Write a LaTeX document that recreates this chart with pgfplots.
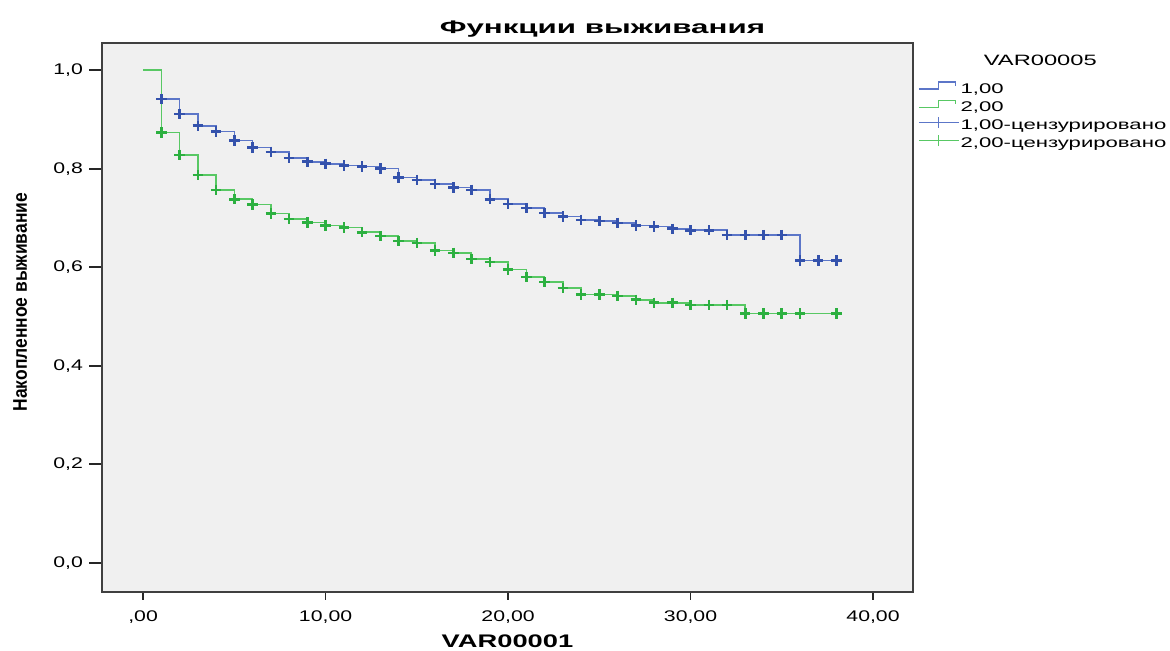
\documentclass[border=0pt]{standalone}
\usepackage{fontspec}
\setmainfont{Liberation Sans}
\newfontfamily\titlefont[FakeStretch=1.72]{Liberation Sans}
\newfontfamily\xlabfont[FakeStretch=1.5]{Liberation Sans}
\newfontfamily\ylabfont[FakeStretch=0.88]{Liberation Sans}
\newfontfamily\tickfont[FakeStretch=1.38]{Liberation Sans}
\newfontfamily\legfont[FakeStretch=1.58]{Liberation Sans}
\usepackage{pgfplots}
\usepackage{pgfplotstable}
\pgfplotsset{compat=1.18}
\definecolor{bline}{RGB}{92,118,200}
\definecolor{bmark}{RGB}{52,82,172}
\definecolor{gline}{RGB}{88,200,100}
\definecolor{gmark}{RGB}{44,176,64}
\definecolor{bg}{RGB}{240,240,240}
\pgfplotsset{
  stepleg/.style={legend image code/.code={\draw (0pt,-1.5pt)--(10pt,-1.5pt)--(10pt,2pt)--(18.5pt,2pt)--(18.5pt,0pt);}},
  censleg/.style={legend image code/.code={\draw (0pt,0pt)--(20pt,0pt); \draw (10pt,-2.8pt)--(10pt,2.8pt);}},
}
\pgfplotstableread{
x y
0 1.0
1 0.941
2 0.911
3 0.887
4 0.875
5 0.857
6 0.843
7 0.834
8 0.822
9 0.814
10 0.810
11 0.806
12 0.804
13 0.800
14 0.782
15 0.777
16 0.769
17 0.762
18 0.757
19 0.738
20 0.728
21 0.720
22 0.710
23 0.703
24 0.696
25 0.694
26 0.690
27 0.685
28 0.683
29 0.678
30 0.675
31 0.675
32 0.665
33 0.665
34 0.665
35 0.665
36 0.614
37 0.614
38 0.614
38.3 0.614
}\blue
\pgfplotstableread{
x y
0 1.0
1 0.873
2 0.828
3 0.787
4 0.757
5 0.738
6 0.727
7 0.709
8 0.698
9 0.691
10 0.685
11 0.681
12 0.671
13 0.663
14 0.653
15 0.649
16 0.634
17 0.629
18 0.617
19 0.611
20 0.595
21 0.580
22 0.570
23 0.558
24 0.545
25 0.545
26 0.542
27 0.534
28 0.528
29 0.528
30 0.523
31 0.523
32 0.523
33 0.506
34 0.506
35 0.506
36 0.506
38 0.506
38.3 0.506
}\green
\begin{document}
\begin{tikzpicture}
\useasboundingbox (0,0) rectangle (585pt,325.5pt);
\begin{axis}[
  at={(51pt,29.5pt)}, anchor=south west,
  scale only axis, width=405.5pt, height=274.5pt,
  xmin=-2.25, xmax=42.19, ymin=-0.059, ymax=1.055,
  axis background/.style={fill=bg},
  axis line style={black!75, line width=0.9pt},
  xtick={0,10,20,30,40},
  xticklabels={{,00},{10,00},{20,00},{30,00},{40,00}},
  ytick={0,0.2,0.4,0.6,0.8,1.0},
  yticklabels={{0,0},{0,2},{0,4},{0,6},{0,8},{1,0}},
  tick align=outside, major tick length=6.5pt,
  xtick style={/pgfplots/major tick length=3.8pt},
  xtick pos=bottom, ytick pos=left,
  tick style={black!85, line width=0.9pt},
  /pgf/number format/assume math mode=true,
  tick label style={font=\tickfont\fontsize{7.7}{9}\selectfont},
  xticklabel style={yshift=0.5pt},
  yticklabel style={xshift=0.5pt},
  title={Функции выживания},
  every axis title/.style={at={(axis description cs:0.617,1.018)}, anchor=base, font=\titlefont\bfseries\fontsize{9.1}{11}\selectfont},
  xlabel={VAR00001},
  every axis x label/.style={at={(axis description cs:0.5,-0.102)}, anchor=base, font=\xlabfont\bfseries\fontsize{9.1}{11}\selectfont},
  ylabel={Накопленное выживание},
  every axis y label/.style={at={(axis description cs:-0.101,0.528)}, rotate=90, anchor=center, font=\ylabfont\bfseries\fontsize{9.9}{11}\selectfont},
  clip=false,
  legend style={at={(axis description cs:1.006,0.942)}, anchor=north west, draw=none, fill=none,
    font=\legfont\fontsize{7}{8}\selectfont, row sep=-1.6pt, inner sep=0pt,
    nodes={inner sep=0.6pt, text depth=0.2ex, text height=1.6ex}},
  legend cell align=left,
]
\addplot[bline, line width=0.8pt, const plot mark left, forget plot] table {\blue};
\addplot[gline, line width=0.8pt, const plot mark left, forget plot] table {\green};
\addplot[bmark, only marks, mark=+, mark size=2.6pt, line width=1.3pt, skip coords between index={0}{1}, skip coords between index={39}{40}, forget plot] table {\blue};
\addplot[gmark, only marks, mark=+, mark size=2.6pt, line width=1.3pt, skip coords between index={0}{1}, skip coords between index={38}{39}, forget plot] table {\green};
\addlegendimage{bline, line width=0.6pt, stepleg}
\addlegendentry{1,00}
\addlegendimage{gline, line width=0.6pt, stepleg}
\addlegendentry{2,00}
\addlegendimage{bline, line width=0.6pt, censleg}
\addlegendentry{1,00-цензурировано}
\addlegendimage{gline, line width=0.6pt, censleg}
\addlegendentry{2,00-цензурировано}
\node[font=\legfont\fontsize{7.5}{9}\selectfont, anchor=center] at (axis description cs:1.157,0.969) {VAR00005};
\end{axis}
\end{tikzpicture}
\end{document}
